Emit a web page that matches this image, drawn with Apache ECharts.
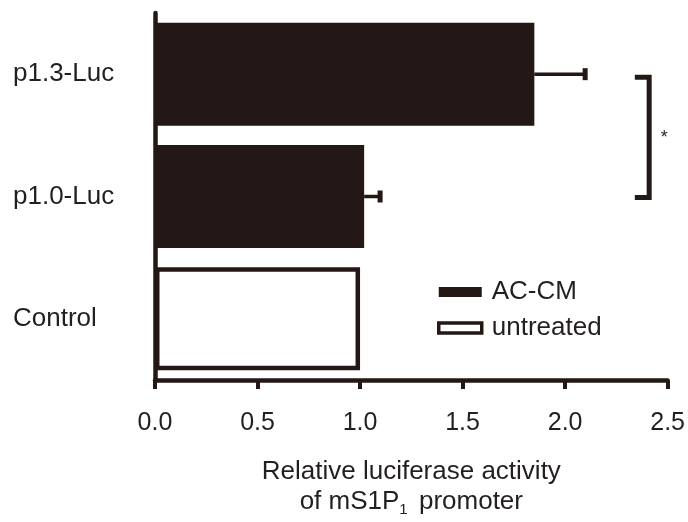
<!DOCTYPE html>
<html>
<head>
<meta charset="utf-8">
<script src="https://cdn.jsdelivr.net/npm/echarts@6/dist/echarts.min.js"></script>
<style>
  html, body { margin: 0; padding: 0; background: #ffffff; }
  #chart { width: 688px; height: 522px; }
</style>
</head>
<body>
<div id="chart"></div>
<script>
// ---- data ----
const categories = ['Control', 'p1.0-Luc', 'p1.3-Luc'];
const acCM = [null, 1.02, 1.85];
const acCMErr = [null, 0.09, 0.26];
const untreated = [1.00, null, null];
const xTicks = [0, 0.5, 1.0, 1.5, 2.0, 2.5];
const seriesNames = ['AC-CM', 'untreated'];
const sigPair = ['p1.3-Luc', 'p1.0-Luc'];
const sigX = 2.41;
const sigArm = 0.07;
const sigLabel = '*';
const xTitle1 = 'Relative luciferase activity';
const xTitle2a = 'of mS1P';
const xTitle2sub = '1';
const xTitle2b = ' promoter';

// ---- styles ----
const INK = '#231815';
const TXT = '#231f20';
const FONT = '"Liberation Sans", Arial, Helvetica, sans-serif';

const chart = echarts.init(document.getElementById('chart'), null, { renderer: 'canvas' });

const errData = [];
categories.forEach((c, i) => {
  if (acCM[i] != null && acCMErr[i] != null) errData.push([acCM[i], acCM[i] + acCMErr[i], i]);
});
const sigData = [[sigX, categories.indexOf(sigPair[0]), categories.indexOf(sigPair[1])]];

const option = {
  backgroundColor: '#ffffff',
  animation: false,
  grid: { left: 155, right: 17, top: 13, bottom: 130, containLabel: false },
  legend: {
    orient: 'vertical',
    left: 437,
    top: 279,
    padding: 0,
    itemWidth: 43,
    itemHeight: 10,
    itemGap: 10,
    selectedMode: false,
    textStyle: { fontFamily: FONT, fontSize: 26, color: TXT, padding: [0, 0, 0, 5] },
    data: [
      { name: seriesNames[0], icon: 'rect', itemStyle: { color: INK, borderWidth: 0 } },
      { name: seriesNames[1], icon: 'rect', itemStyle: { color: '#ffffff', borderColor: INK, borderWidth: 3.5 } }
    ]
  },
  xAxis: {
    type: 'value',
    min: xTicks[0],
    max: xTicks[xTicks.length - 1],
    interval: xTicks[1] - xTicks[0],
    splitLine: { show: false },
    axisLine: { show: true, onZero: false, lineStyle: { color: INK, width: 4.5 } },
    axisTick: { show: true, length: 9, lineStyle: { color: INK, width: 4 } },
    axisLabel: {
      margin: 31,
      fontFamily: FONT, fontSize: 25, color: TXT,
      formatter: v => v.toFixed(1)
    },
    name: '{a|' + xTitle1 + '}\n{a|' + xTitle2a + '}{s|' + xTitle2sub + '}{a|' + xTitle2b + '}',
    nameLocation: 'middle',
    nameGap: 77,
    nameTextStyle: {
      fontFamily: FONT, color: TXT, align: 'center',
      rich: {
        a: { fontFamily: FONT, fontSize: 26, color: TXT, lineHeight: 30 },
        s: { fontFamily: FONT, fontSize: 15, color: TXT, lineHeight: 15, verticalAlign: 'bottom', padding: [0, 4, 0, 0] }
      }
    }
  },
  yAxis: {
    type: 'category',
    data: categories,
    axisLine: { show: true, lineStyle: { color: INK, width: 4.5 } },
    axisTick: { show: false },
    axisLabel: {
      align: 'left',
      margin: 142,
      fontFamily: FONT, fontSize: 26, color: TXT
    }
  },
  series: [
    {
      name: seriesNames[0],
      type: 'bar',
      stack: 'one',
      barWidth: 103,
      data: acCM.map(v => v == null ? '-' : v),
      itemStyle: { color: INK, borderWidth: 0 },
      z: 2
    },
    {
      name: seriesNames[1],
      type: 'bar',
      stack: 'one',
      barWidth: 103,
      data: untreated.map(v => v == null ? '-' : v),
      itemStyle: { color: '#ffffff', borderColor: INK, borderWidth: 4.5 },
      z: 2
    },
    {
      type: 'custom',
      name: 'err',
      data: errData,
      encode: { x: [0, 1], y: 2 },
      z: 5,
      renderItem: function (params, api) {
        const s = api.coord([api.value(0), api.value(2)]);
        const e = api.coord([api.value(1), api.value(2)]);
        return {
          type: 'group',
          children: [
            { type: 'line', shape: { x1: s[0], y1: s[1], x2: e[0] - 2, y2: e[1] },
              style: { stroke: INK, lineWidth: 3.5 } },
            { type: 'rect', shape: { x: e[0] - 5, y: e[1] - 6, width: 5, height: 12 },
              style: { fill: INK } }
          ]
        };
      }
    },
    {
      type: 'custom',
      name: 'sig',
      data: sigData,
      encode: { x: 0, y: [1, 2] },
      z: 5,
      renderItem: function (params, api) {
        const a = api.coord([api.value(0), api.value(1)]);
        const b = api.coord([api.value(0), api.value(2)]);
        const la = api.coord([api.value(0) - sigArm, api.value(1)]);
        return {
          type: 'group',
          children: [
            { type: 'polyline',
              shape: { points: [[la[0], a[1] + 3], [a[0], a[1] + 3], [b[0], b[1] + 1], [la[0], b[1] + 1]] },
              style: { stroke: INK, lineWidth: 5, fill: null, lineJoin: 'miter' } },
            { type: 'text',
              style: { x: a[0] + 15, y: (a[1] + b[1]) / 2 + 3, text: sigLabel,
                       fontFamily: FONT, fontSize: 18, fill: TXT, align: 'center', verticalAlign: 'middle' } }
          ]
        };
      }
    }
  ]
};
chart.setOption(option);
</script>
</body>
</html>
